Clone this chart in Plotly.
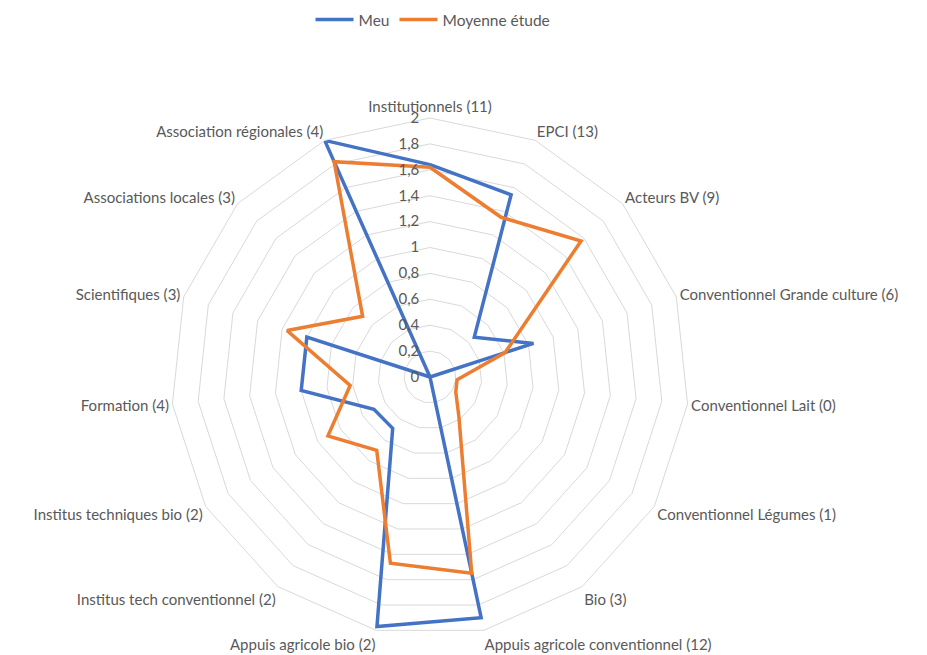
import plotly.graph_objects as go

categories = [
    "Institutionnels (11)", "EPCI (13)", "Acteurs BV (9)",
    "Conventionnel Grande culture (6)", "Conventionnel Lait (0)",
    "Conventionnel Légumes (1)", "Bio (3)",
    "Appuis agricole conventionnel (12)", "Appuis agricole bio (2)",
    "Institus tech conventionnel (2)", "Institus techniques bio (2)",
    "Formation (4)", "Scientifiques (3)", "Associations locales (3)",
    "Association régionales (4)",
]
meu = [1.64, 1.54, 0.46, 0.84, 0, 0, 0, 1.90, 1.97, 0.49, 0.50, 1.00, 1.00, 0, 2.00]
moyenne = [1.62, 1.35, 1.57, 0.61, 0.21, 0.23, 0.38, 1.55, 1.47, 0.70, 0.91, 0.62, 1.16, 0.70, 1.82]

W, H = 927, 655
cx, cy, R = 430, 377, 259

fig = go.Figure()
fig.add_trace(go.Scatterpolar(
    r=meu + meu[:1], theta=categories + categories[:1], mode="lines",
    name="Meu", line=dict(color="#4472C4", width=3.5)))
fig.add_trace(go.Scatterpolar(
    r=moyenne + moyenne[:1], theta=categories + categories[:1], mode="lines",
    name="Moyenne étude", line=dict(color="#ED7D31", width=3.5)))

font_fam = "Lato, Open Sans, sans-serif"
fig.update_layout(
    width=W, height=H,
    margin=dict(l=0, r=0, t=0, b=0),
    paper_bgcolor="white",
    separators=", ",
    font=dict(family=font_fam, size=15, color="#595959"),
    showlegend=True,
    legend=dict(orientation="h", x=433 / W, xanchor="center",
                y=1 - 3 / H, yanchor="top", itemwidth=38,
                font=dict(size=15.5, color="#595959")),
    polar=dict(
        bgcolor="white",
        gridshape="linear",
        domain=dict(x=[(cx - R) / W, (cx + R) / W],
                    y=[(H - cy - R) / H, (H - cy + R) / H]),
        angularaxis=dict(rotation=90, direction="clockwise",
                         showgrid=False, showline=True, linecolor="#D9D9D9",
                         ticks="", tickfont=dict(size=15, color="#595959")),
        radialaxis=dict(range=[0, 2], dtick=0.2, angle=90, tickangle=90,
                        side="counterclockwise", showline=False,
                        ticks="outside", ticklen=5, tickcolor="rgba(0,0,0,0)",
                        gridcolor="#D9D9D9", gridwidth=1,
                        tickfont=dict(size=15, color="#595959")),
    ),
)
fig.write_html("out.html")
